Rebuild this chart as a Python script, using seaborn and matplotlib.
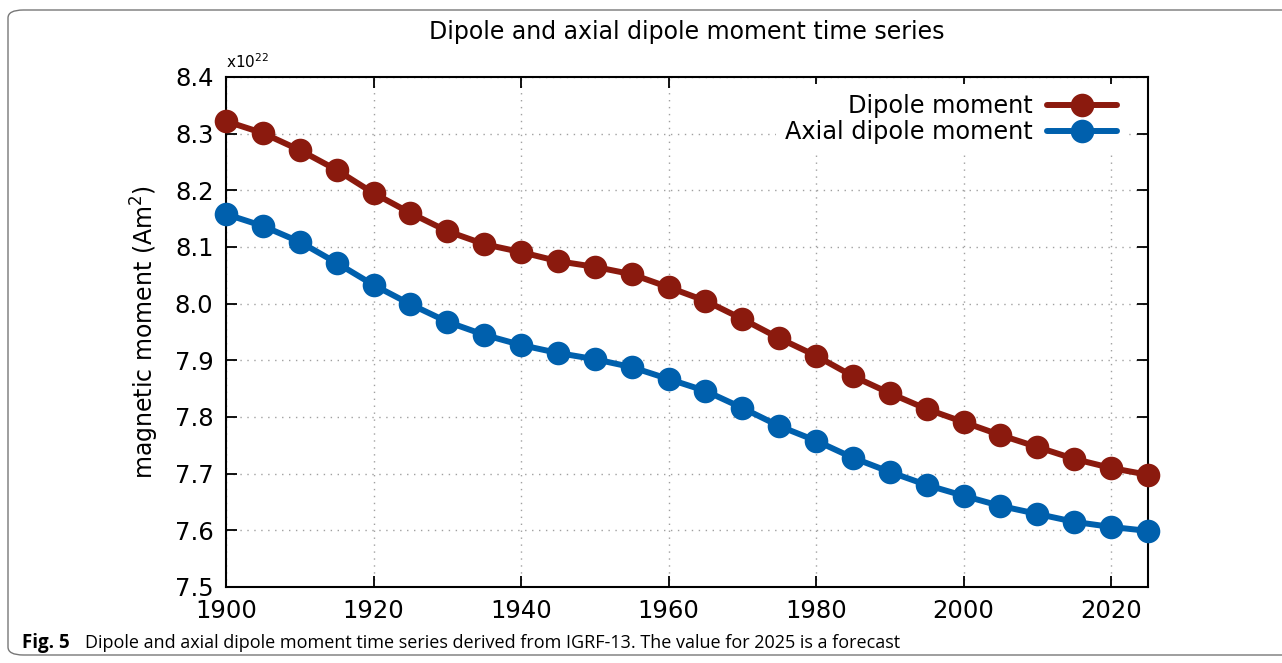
import numpy as np
import pandas as pd
import matplotlib
matplotlib.use("Agg")
import matplotlib.pyplot as plt
from matplotlib.patches import FancyBboxPatch
import seaborn as sns

# data (units of 1e22 Am^2)
years = list(range(1900, 2030, 5))
dipole = [8.322, 8.301, 8.271, 8.236, 8.195, 8.160, 8.128, 8.105, 8.091, 8.075,
          8.065, 8.052, 8.029, 8.005, 7.973, 7.939, 7.908, 7.872, 7.842, 7.814,
          7.791, 7.768, 7.747, 7.726, 7.710, 7.698]
axial = [8.158, 8.137, 8.109, 8.072, 8.033, 7.999, 7.968, 7.945, 7.927, 7.913,
         7.902, 7.888, 7.867, 7.846, 7.816, 7.784, 7.758, 7.728, 7.703, 7.680,
         7.661, 7.643, 7.629, 7.615, 7.606, 7.599]
series_names = ["Dipole moment", "Axial dipole moment"]
colors = ["#8b1a0e", "#0060ad"]
x_ticks = [1900, 1920, 1940, 1960, 1980, 2000, 2020]
y_ticks = [7.5, 7.6, 7.7, 7.8, 7.9, 8.0, 8.1, 8.2, 8.3, 8.4]

df = pd.DataFrame({
    "year": years * 2,
    "moment": dipole + axial,
    "series": [series_names[0]] * len(years) + [series_names[1]] * len(years),
})

sns.set_style("white")
plt.rcParams["font.family"] = ["DejaVu Sans"]
plt.rcParams["text.color"] = "black"
plt.rcParams["axes.labelcolor"] = "black"

fig = plt.figure(figsize=(12.82, 6.63), dpi=100)
ax = fig.add_axes([226 / 1282, 1 - 587 / 663, 922 / 1282, 510 / 663])

sns.lineplot(data=df, x="year", y="moment", hue="series", hue_order=series_names,
             palette=colors, marker="o", markersize=17, markeredgewidth=0,
             linewidth=4.3, ax=ax, legend=False)
for ln in ax.get_lines():
    ln.set_clip_on(False)
    ln.set_zorder(3)

ax.set_xlim(1900, 2025)
ax.set_ylim(7.5, 8.4)
ax.set_xticks(x_ticks)
ax.set_yticks(y_ticks)
ax.set_yticklabels([f"{v:.1f}" for v in y_ticks])
ax.tick_params(direction="in", length=8, width=1.3, top=True, right=True,
               labelsize=17.5, pad=9, colors="#000000", bottom=True, left=True)
ax.grid(True, linestyle=(0, (1, 4)), color="#a0a0a0", linewidth=1)
for s in ax.spines.values():
    s.set_color("black")
    s.set_linewidth(1.5)
ax.set_xlabel("")
ax.set_ylabel("magnetic moment (Am$^2$)", fontsize=17, labelpad=10)
ax.set_title("Dipole and axial dipole moment time series", fontsize=17, pad=27)
ax.text(0, 1.012, "x10$^{22}$", transform=ax.transAxes, fontsize=11,
        ha="left", va="bottom")

handles = [plt.Line2D([], [], color=c, marker="o", markersize=17,
                      markeredgewidth=0, linewidth=4.3) for c in colors]
leg = ax.legend(handles, series_names, loc="upper right", markerfirst=False,
                fontsize=17.3, frameon=True, handlelength=2.9,
                bbox_to_anchor=(0.982, 0.995), borderaxespad=0.2,
                labelspacing=0.1, handletextpad=0.6)
leg.get_frame().set_edgecolor("none")
leg.get_frame().set_facecolor("white")
leg.get_frame().set_alpha(1)
leg.set_zorder(5)
for t in leg.get_texts():
    t.set_ha("right")
leg._legend_box.align = "right"

# outer rounded frame and caption
box = FancyBboxPatch((8 / 1282, 8 / 663), 1300 / 1282, 645 / 663,
                     boxstyle="round,pad=0,rounding_size=0.012",
                     transform=fig.transFigure, facecolor="none",
                     edgecolor="#777777", linewidth=1, clip_on=False)
fig.patches.append(box)
cap_font = ["Liberation Sans Narrow", "Open Sans", "DejaVu Sans"]
fig.text(22 / 1282, 1 - 643 / 663, "Fig. 5", fontsize=13.5, fontweight="bold",
         family=cap_font, va="center", ha="left")
fig.text(85 / 1282, 1 - 643 / 663,
         "Dipole and axial dipole moment time series derived from IGRF-13. "
         "The value for 2025 is a forecast",
         fontsize=13, family=cap_font, va="center", ha="left")

fig.savefig("out.png", dpi=100)
